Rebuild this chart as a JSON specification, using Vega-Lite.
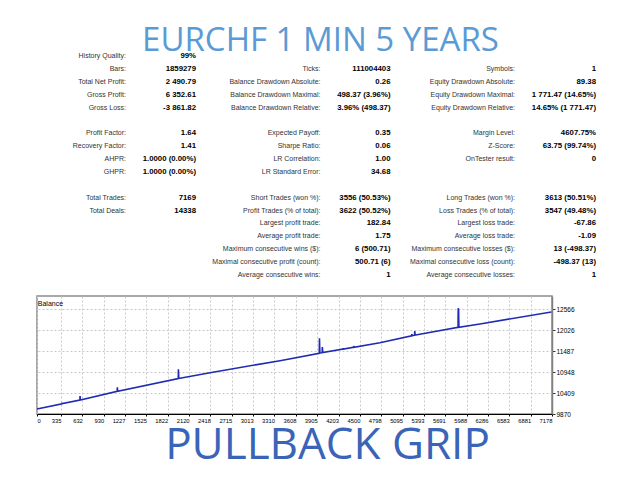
{
  "$schema": "https://vega.github.io/schema/vega-lite/v6.json",
  "background": "white",
  "padding": {"top": 25, "left": 33, "right": 0, "bottom": 0},
  "autosize": {"type": "pad"},
  "bounds": "flush",
  "spacing": 21,
  "config": {"view": {"stroke": null}, "font": "Liberation Sans"},
  "datasets": {
    "stats": [
      {"row": 0, "col": 1, "label": "History Quality:", "value": "99%"},
      {"row": 1, "col": 1, "label": "Bars:", "value": "1859279"},
      {"row": 1, "col": 2, "label": "Ticks:", "value": "111004403"},
      {"row": 1, "col": 3, "label": "Symbols:", "value": "1"},
      {"row": 2, "col": 1, "label": "Total Net Profit:", "value": "2 490.79"},
      {"row": 2, "col": 2, "label": "Balance Drawdown Absolute:", "value": "0.26"},
      {"row": 2, "col": 3, "label": "Equity Drawdown Absolute:", "value": "89.38"},
      {"row": 3, "col": 1, "label": "Gross Profit:", "value": "6 352.61"},
      {"row": 3, "col": 2, "label": "Balance Drawdown Maximal:", "value": "498.37 (3.96%)"},
      {"row": 3, "col": 3, "label": "Equity Drawdown Maximal:", "value": "1 771.47 (14.65%)"},
      {"row": 4, "col": 1, "label": "Gross Loss:", "value": "-3 861.82"},
      {"row": 4, "col": 2, "label": "Balance Drawdown Relative:", "value": "3.96% (498.37)"},
      {"row": 4, "col": 3, "label": "Equity Drawdown Relative:", "value": "14.65% (1 771.47)"},
      {"row": 6, "col": 1, "label": "Profit Factor:", "value": "1.64"},
      {"row": 6, "col": 2, "label": "Expected Payoff:", "value": "0.35"},
      {"row": 6, "col": 3, "label": "Margin Level:", "value": "4607.75%"},
      {"row": 7, "col": 1, "label": "Recovery Factor:", "value": "1.41"},
      {"row": 7, "col": 2, "label": "Sharpe Ratio:", "value": "0.06"},
      {"row": 7, "col": 3, "label": "Z-Score:", "value": "63.75 (99.74%)"},
      {"row": 8, "col": 1, "label": "AHPR:", "value": "1.0000 (0.00%)"},
      {"row": 8, "col": 2, "label": "LR Correlation:", "value": "1.00"},
      {"row": 8, "col": 3, "label": "OnTester result:", "value": "0"},
      {"row": 9, "col": 1, "label": "GHPR:", "value": "1.0000 (0.00%)"},
      {"row": 9, "col": 2, "label": "LR Standard Error:", "value": "34.68"},
      {"row": 11, "col": 1, "label": "Total Trades:", "value": "7169"},
      {"row": 11, "col": 2, "label": "Short Trades (won %):", "value": "3556 (50.53%)"},
      {"row": 11, "col": 3, "label": "Long Trades (won %):", "value": "3613 (50.51%)"},
      {"row": 12, "col": 1, "label": "Total Deals:", "value": "14338"},
      {"row": 12, "col": 2, "label": "Profit Trades (% of total):", "value": "3622 (50.52%)"},
      {"row": 12, "col": 3, "label": "Loss Trades (% of total):", "value": "3547 (49.48%)"},
      {"row": 13, "col": 2, "label": "Largest profit trade:", "value": "182.84"},
      {"row": 13, "col": 3, "label": "Largest loss trade:", "value": "-67.86"},
      {"row": 14, "col": 2, "label": "Average profit trade:", "value": "1.75"},
      {"row": 14, "col": 3, "label": "Average loss trade:", "value": "-1.09"},
      {"row": 15, "col": 2, "label": "Maximum consecutive wins ($):", "value": "6 (500.71)"},
      {"row": 15, "col": 3, "label": "Maximum consecutive losses ($):", "value": "13 (-498.37)"},
      {"row": 16, "col": 2, "label": "Maximal consecutive profit (count):", "value": "500.71 (6)"},
      {"row": 16, "col": 3, "label": "Maximal consecutive loss (count):", "value": "-498.37 (13)"},
      {"row": 17, "col": 2, "label": "Average consecutive wins:", "value": "1"},
      {"row": 17, "col": 3, "label": "Average consecutive losses:", "value": "1"}
    ],
    "balance": [
      {"trade": 0, "balance": 10000},
      {"trade": 350, "balance": 10134},
      {"trade": 352, "balance": 10162},
      {"trade": 356, "balance": 10136},
      {"trade": 598, "balance": 10228},
      {"trade": 600, "balance": 10332},
      {"trade": 604, "balance": 10231},
      {"trade": 1118, "balance": 10452},
      {"trade": 1120, "balance": 10556},
      {"trade": 1125, "balance": 10455},
      {"trade": 1969, "balance": 10778},
      {"trade": 1971, "balance": 11018},
      {"trade": 1976, "balance": 10784},
      {"trade": 1993, "balance": 10787},
      {"trade": 2411, "balance": 10931},
      {"trade": 3387, "balance": 11239},
      {"trade": 3934, "balance": 11428},
      {"trade": 3937, "balance": 11814},
      {"trade": 3942, "balance": 11438},
      {"trade": 3975, "balance": 11444},
      {"trade": 3977, "balance": 11590},
      {"trade": 3982, "balance": 11446},
      {"trade": 4265, "balance": 11535},
      {"trade": 4267, "balance": 11560},
      {"trade": 4271, "balance": 11537},
      {"trade": 4411, "balance": 11582},
      {"trade": 4413, "balance": 11616},
      {"trade": 4417, "balance": 11584},
      {"trade": 4780, "balance": 11701},
      {"trade": 5222, "balance": 11876},
      {"trade": 5224, "balance": 11924},
      {"trade": 5228, "balance": 11878},
      {"trade": 5263, "balance": 11893},
      {"trade": 5265, "balance": 12001},
      {"trade": 5270, "balance": 11896},
      {"trade": 5278, "balance": 11898},
      {"trade": 5869, "balance": 12095},
      {"trade": 5871, "balance": 12584},
      {"trade": 5876, "balance": 12560},
      {"trade": 5880, "balance": 12098},
      {"trade": 6174, "balance": 12181},
      {"trade": 7169, "balance": 12491}
    ]
  },
  "vconcat": [
    {
      "width": 567,
      "height": 219,
      "title": {
        "text": "EURCHF 1 MIN 5 YEARS",
        "font": "Open Sans",
        "fontSize": 33,
        "fontWeight": "normal",
        "color": "#5b9bd5",
        "anchor": "middle",
        "baseline": "alphabetic",
        "offset": -32
      },
      "data": {"name": "stats"},
      "encoding": {
        "x": {
          "field": "col",
          "type": "ordinal",
          "scale": {"type": "point", "domain": [1, 2, 3], "padding": 0.4576},
          "axis": null
        },
        "y": {
          "field": "row",
          "type": "ordinal",
          "scale": {
            "type": "point",
            "domain": [0, 1, 2, 3, 4, 5, 6, 7, 8, 9, 10, 11, 12, 13, 14, 15, 16, 17],
            "padding": 0
          },
          "axis": null
        }
      },
      "layer": [
        {
          "mark": {"type": "text", "align": "right", "baseline": "middle", "fontSize": 7, "color": "#333333"},
          "encoding": {"text": {"field": "label"}}
        },
        {
          "transform": [{"filter": "datum.col < 3"}],
          "mark": {"type": "text", "align": "right", "baseline": "middle", "dx": 70, "fontSize": 7.8, "fontWeight": "bold", "color": "#000000"},
          "encoding": {"text": {"field": "value"}}
        },
        {
          "transform": [{"filter": "datum.col == 3"}],
          "mark": {"type": "text", "align": "right", "baseline": "middle", "dx": 81, "fontSize": 7.8, "fontWeight": "bold", "color": "#000000"},
          "encoding": {"text": {"field": "value"}}
        }
      ]
    },
    {
      "width": 515,
      "height": 118,
      "view": {"stroke": "#8c8c8c", "strokeWidth": 1.5},
      "title": {
        "text": "Balance",
        "anchor": "start",
        "offset": -17,
        "dx": 4,
        "fontSize": 7,
        "fontWeight": "normal",
        "color": "#000000",
        "baseline": "alphabetic"
      },
      "data": {"name": "balance"},
      "mark": {"type": "line", "color": "#1f2bb0", "strokeWidth": 1.6},
      "encoding": {
        "x": {
          "field": "trade",
          "type": "quantitative",
          "scale": {"domain": [0, 7178], "nice": false, "zero": false},
          "axis": {
            "title": null,
            "format": "d",
            "values": [0, 335, 632, 930, 1227, 1525, 1822, 2120, 2418, 2715, 3013, 3310, 3608, 3905, 4203, 4500, 4798, 5095, 5393, 5691, 5988, 6286, 6583, 6881, 7178],
            "labelFontSize": 5.8,
            "labelColor": "#000000",
            "labelAlign": {"condition": {"test": "datum.value === 0", "value": "left"}, "value": "right"},
            "labelFlush": false,
            "labelOverlap": false,
            "labelPadding": 1,
            "tickSize": 2,
            "tickColor": "#000000",
            "domainColor": "#000000",
            "grid": true,
            "gridColor": "#c8c8c8",
            "gridDash": [2, 2]
          }
        },
        "y": {
          "field": "balance",
          "type": "quantitative",
          "scale": {"domain": [9870, 12900], "nice": false, "zero": false},
          "axis": {
            "orient": "right",
            "title": null,
            "format": "d",
            "values": [9870, 10409, 10948, 11487, 12026, 12566],
            "labelFontSize": 6.5,
            "labelColor": "#000000",
            "labelFlush": false,
            "labelPadding": 1,
            "tickSize": 3,
            "tickColor": "#333333",
            "domainColor": "#808080",
            "domainWidth": 1.5,
            "grid": true,
            "gridColor": "#c8c8c8",
            "gridDash": [2, 2]
          }
        }
      }
    },
    {
      "width": 567,
      "height": 21,
      "data": {"values": [{"name": "PULLBACK GRIP"}]},
      "mark": {"type": "text", "font": "Open Sans", "fontSize": 44, "color": "#3a64b8", "dx": 7, "baseline": "middle"},
      "encoding": {"text": {"field": "name"}}
    }
  ]
}
